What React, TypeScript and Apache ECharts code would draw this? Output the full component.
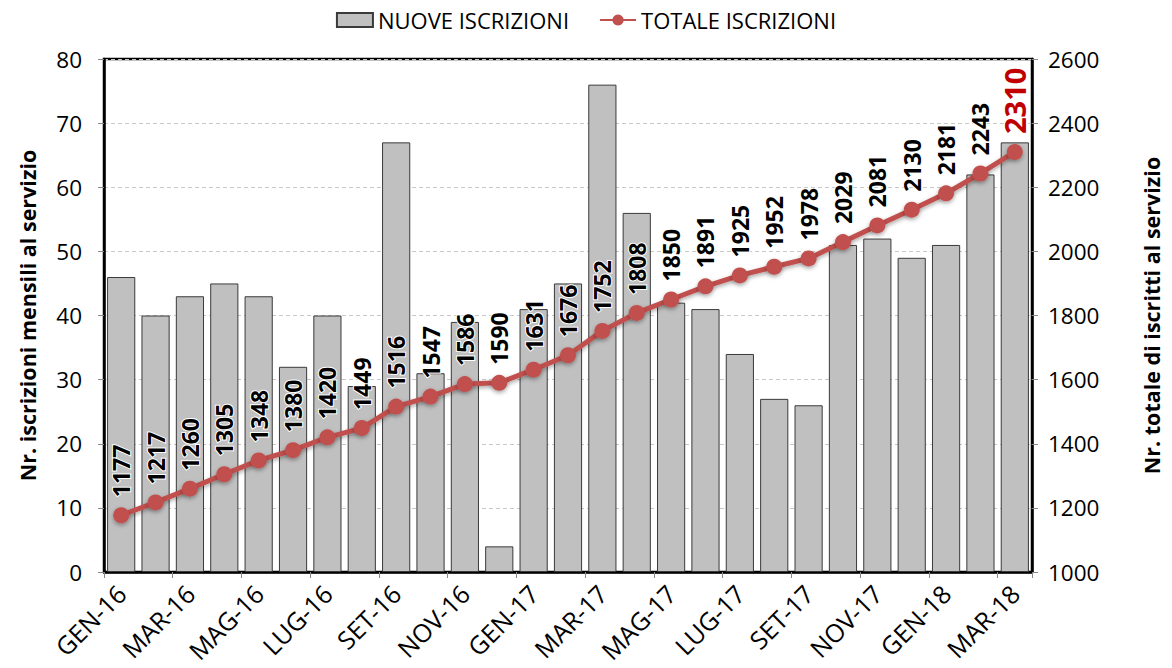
import React, { useEffect, useRef } from "react";
import * as echarts from "echarts";

const categories = [
  "GEN-16", "FEB-16", "MAR-16", "APR-16", "MAG-16", "GIU-16", "LUG-16", "AGO-16", "SET-16", "OTT-16", "NOV-16", "DIC-16",
  "GEN-17", "FEB-17", "MAR-17", "APR-17", "MAG-17", "GIU-17", "LUG-17", "AGO-17", "SET-17", "OTT-17", "NOV-17", "DIC-17",
  "GEN-18", "FEB-18", "MAR-18",
];
const nuoveIscrizioni = [46, 40, 43, 45, 43, 32, 40, 29, 67, 31, 39, 4, 41, 45, 76, 56, 42, 41, 34, 27, 26, 51, 52, 49, 51, 62, 67];
const totaleIscrizioni = [1177, 1217, 1260, 1305, 1348, 1380, 1420, 1449, 1516, 1547, 1586, 1590, 1631, 1676, 1752, 1808, 1850, 1891, 1925, 1952, 1978, 2029, 2081, 2130, 2181, 2243, 2310];

const FONT = "'Open Sans', 'Noto Sans', sans-serif";

export default function App() {
  const ref = useRef<HTMLDivElement>(null);
  useEffect(() => {
    if (!ref.current) return;
    const chart = echarts.init(ref.current, null, { renderer: "svg" });
    const last = totaleIscrizioni.length - 1;
    chart.setOption({
      animation: false,
      backgroundColor: "#fff",
      textStyle: { fontFamily: FONT },
      legend: {
        top: 4,
        left: "center",
        itemGap: 30,
        itemWidth: 36,
        itemHeight: 14,
        textStyle: { fontFamily: FONT, fontSize: 22, color: "#000" },
        data: [
          { name: "NUOVE ISCRIZIONI", icon: "rect" },
          { name: "TOTALE ISCRIZIONI" },
        ],
      },
      grid: {
        left: 104,
        right: 140,
        top: 59,
        bottom: 96,
        show: true,
        borderColor: "#000",
        borderWidth: 2.5,
      },
      xAxis: {
        type: "category",
        data: categories,
        boundaryGap: true,
        axisLine: { show: true, lineStyle: { color: "#000", width: 2.5 } },
        axisTick: { show: true, interval: 1, alignWithLabel: false, length: 6, lineStyle: { color: "#888" } },
        axisLabel: {
          interval: 1,
          rotate: 45,
          margin: 17,
          fontSize: 25,
          color: "#000",
          fontFamily: FONT,
        },
      },
      yAxis: [
        {
          type: "value",
          min: 0,
          max: 80,
          interval: 10,
          name: "Nr. iscrizioni mensili al servizio",
          nameLocation: "middle",
          nameRotate: 90,
          nameGap: 66,
          nameTextStyle: { fontFamily: FONT, fontSize: 21.5, fontWeight: "bold", color: "#000" },
          axisLine: { show: true, lineStyle: { color: "#000", width: 2.5 } },
          axisTick: { show: true, length: 6, inside: false, lineStyle: { color: "#888" } },
          axisLabel: { fontSize: 22.5, color: "#000", margin: 22, fontFamily: FONT },
          splitLine: { show: true, lineStyle: { color: "#c8c8c8", type: [4, 3], width: 1 } },
        },
        {
          type: "value",
          min: 1000,
          max: 2600,
          interval: 200,
          name: "Nr. totale di iscritti al servizio",
          nameLocation: "middle",
          nameRotate: 90,
          nameGap: 108,
          nameTextStyle: { fontFamily: FONT, fontSize: 21.5, fontWeight: "bold", color: "#000" },
          axisLine: { show: true, lineStyle: { color: "#000", width: 2.5 } },
          axisTick: { show: true, length: 6, lineStyle: { color: "#888" } },
          axisLabel: {
            fontSize: 22.5,
            color: "#000",
            margin: 16,
            fontFamily: FONT,
            formatter: (v: number) => String(v),
          },
          splitLine: { show: false },
        },
      ],
      series: [
        {
          name: "NUOVE ISCRIZIONI",
          type: "bar",
          yAxisIndex: 0,
          data: nuoveIscrizioni,
          barCategoryGap: "18%",
          itemStyle: { color: "#c0c0c0", borderColor: "#3a3a3a", borderWidth: 1 },
          z: 2,
        },
        {
          name: "TOTALE ISCRIZIONI",
          type: "line",
          yAxisIndex: 1,
          data: totaleIscrizioni.map((v, i) =>
            i === last
              ? {
                  value: v,
                  label: { color: "#c00000", fontSize: 29 },
                }
              : v
          ),
          symbol: "circle",
          symbolSize: 16,
          lineStyle: {
            color: "#c0504d",
            width: 5,
            shadowColor: "rgba(0,0,0,0.35)",
            shadowBlur: 4,
            shadowOffsetY: 2,
          },
          itemStyle: {
            color: "#c0504d",
            shadowColor: "rgba(0,0,0,0.35)",
            shadowBlur: 4,
            shadowOffsetY: 2,
          },
          label: {
            show: true,
            position: "top",
            distance: 10,
            rotate: 90,
            align: "left",
            verticalAlign: "middle",
            fontFamily: FONT,
            fontSize: 23,
            fontWeight: "bold",
            color: "#000",
            textBorderColor: "#fff",
            textBorderWidth: 2,
          },
          z: 5,
        },
      ],
    });
    return () => chart.dispose();
  }, []);
  return (
    <div
      ref={ref}
      style={{ position: "fixed", left: 0, top: 0, width: 1172, height: 668 }}
    />
  );
}
